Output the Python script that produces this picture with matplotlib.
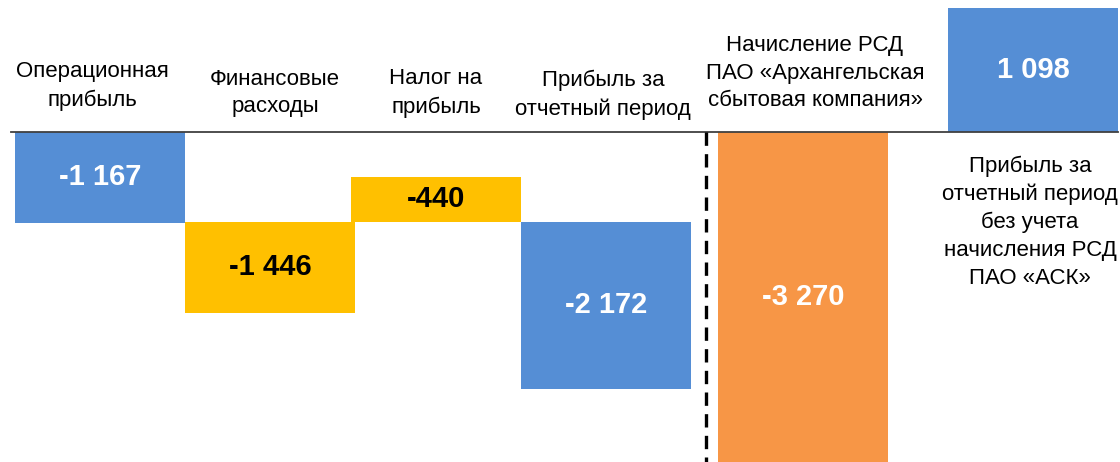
import matplotlib
matplotlib.use("Agg")
import matplotlib.pyplot as plt

plt.rcParams['font.family'] = ['Liberation Sans', 'DejaVu Sans']

# Data
categories = [
    "Операционная\nприбыль",
    "Финансовые\nрасходы",
    "Налог на\nприбыль",
    "Прибыль за\nотчетный период",
    "Начисление РСД\nПАО «Архангельская\nсбытовая компания»",
    "Прибыль за\nотчетный период\nбез учета\nначисления РСД\nПАО «АСК»",
]
values = [-1167, -1446, -440, -2172, -3270, 1098]
value_labels = ["-1 167", "-1 446", "-440", "-2 172", "-3 270", "1 098"]
# bar extents as drawn (the picture is not to scale)
bar_top = [0, -1154, -577, -1154, 0, 1590]
bar_bottom = [-1167, -2320, -1154, -3295, -4400, 0]

blue = "#558ED5"
yellow = "#FFC000"
orange = "#F79646"
colors = [blue, yellow, yellow, blue, orange, blue]
text_colors = ["white", "black", "black", "white", "white", "white"]

# layout
x_pos = [100, 270, 436, 606, 803, 1033]
bar_w = 170
y_min, y_max = -4231, 1692

fig = plt.figure(figsize=(11.2, 4.62), dpi=100)
ax = fig.add_axes([0, 0, 1, 1])
ax.set_xlim(0, 1120)
ax.set_ylim(y_min, y_max)
ax.axis('off')

heights = [t - b for t, b in zip(bar_top, bar_bottom)]
ax.bar(x_pos, heights, bottom=bar_bottom, width=bar_w, color=colors, zorder=2)

# value labels
for x, t, b, lab, tc in zip(x_pos, bar_top, bar_bottom, value_labels, text_colors):
    mid = (max(b, y_min) + t) / 2
    ax.text(x, mid, lab, ha='center', va='center', color=tc,
            fontsize=21, fontweight='bold', zorder=3)

# baseline and separator
ax.plot([11, 1118], [0, 0], color="#404040", lw=1.3, zorder=3)
ax.plot([706, 706], [0, y_min], color="black", lw=2.4, dashes=(4, 2.5), zorder=3)

# category labels (px-based y converted to data)
def py(p):
    return y_max - p * (y_max - y_min) / 462

label_y = [86, 93, 93, 95, 73, 222]
label_x = [92, 275, 436, 603, 815, 1030]
for x, y, lab in zip(label_x, label_y, categories):
    ax.text(x, py(y), lab, ha='center', va='center', fontsize=16,
            linespacing=1.42, color="black")

fig.savefig("out.png", dpi=100)
